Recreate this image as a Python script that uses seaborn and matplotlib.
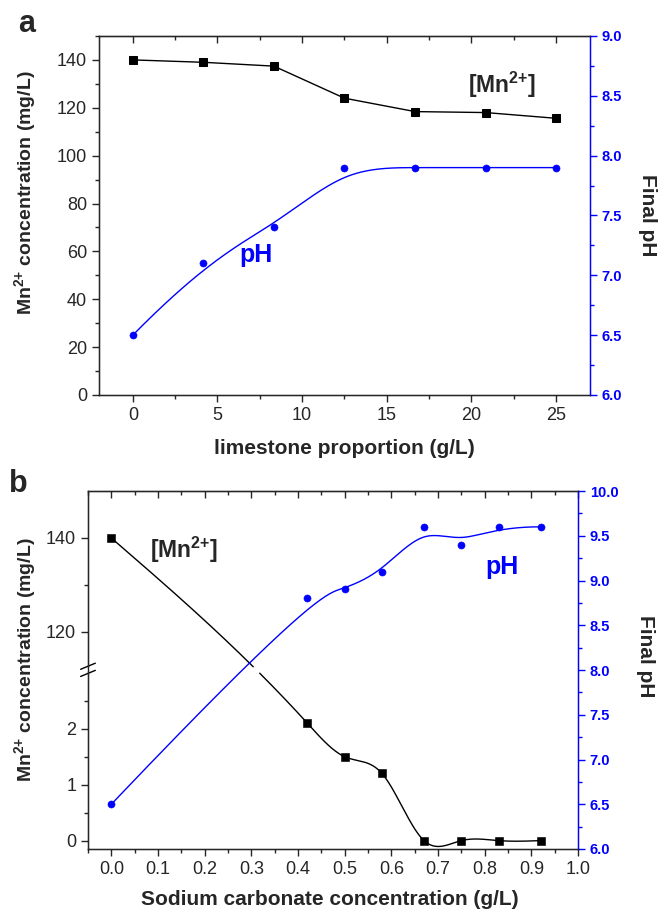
import numpy as np
import pandas as pd
import matplotlib
matplotlib.use('Agg')
import matplotlib.pyplot as plt
import seaborn as sns
from matplotlib.ticker import MultipleLocator, FixedLocator, FormatStrFormatter, NullFormatter

# ---- data (panel a) ----
lime_x = [0, 4.17, 8.33, 12.5, 16.67, 20.83, 25]
lime_mn = [140, 139, 137.4, 124, 118.4, 118, 115.6]
lime_ph = [6.5, 7.1, 7.4, 7.9, 7.9, 7.9, 7.9]

# ---- data (panel b) ----
soda_x = [0, 0.42, 0.5, 0.58, 0.67, 0.75, 0.83, 0.92]
soda_mn = [140, 2.1, 1.5, 1.2, 0, 0, 0, 0]
soda_ph = [6.5, 8.8, 8.9, 9.1, 9.6, 9.4, 9.6, 9.6]

BLUE = '#0000FF'
MN_LABEL = r'Mn$^{2{+}}$ concentration (mg/L)'
MN_TAG = r'[Mn$^{2{+}}$]'

sns.set_style('ticks')
plt.rcParams['font.family'] = ['Liberation Sans', 'DejaVu Sans']
plt.rcParams['mathtext.fontset'] = 'custom'
plt.rcParams['mathtext.rm'] = 'Liberation Sans:bold'
plt.rcParams['mathtext.bf'] = 'Liberation Sans:bold'
plt.rcParams['mathtext.default'] = 'bf'


def bspline(px, py, n=300, k=3):
    # clamped cubic B-spline with the data as control points (Origin style)
    cp = np.column_stack([px, py]).astype(float)
    m = len(cp)
    knots = np.concatenate([np.zeros(k), np.linspace(0, 1, m - k + 1), np.ones(k)])
    t = np.linspace(0, 1 - 1e-9, n)
    N = np.array([(knots[i] <= t) & (t < knots[i + 1]) for i in range(len(knots) - 1)], float).T
    for d in range(1, k + 1):
        Nn = np.zeros((n, len(knots) - 1 - d))
        for i in range(len(knots) - 1 - d):
            a = knots[i + d] - knots[i]
            b = knots[i + d + 1] - knots[i + 1]
            left = (t - knots[i]) / a * N[:, i] if a > 0 else 0
            right = (knots[i + d + 1] - t) / b * N[:, i + 1] if b > 0 else 0
            Nn[:, i] = left + right
        N = Nn
    out = N[:, :m] @ cp
    return out[:, 0], out[:, 1]


def natural_spline(x, y, xs):
    x = np.asarray(x, float); y = np.asarray(y, float)
    n = len(x); h = np.diff(x)
    A = np.zeros((n, n)); r = np.zeros(n)
    A[0, 0] = A[-1, -1] = 1
    for i in range(1, n - 1):
        A[i, i - 1] = h[i - 1]; A[i, i] = 2 * (h[i - 1] + h[i]); A[i, i + 1] = h[i]
        r[i] = 3 * ((y[i + 1] - y[i]) / h[i] - (y[i] - y[i - 1]) / h[i - 1])
    c = np.linalg.solve(A, r)
    b = (y[1:] - y[:-1]) / h - h * (2 * c[:-1] + c[1:]) / 3
    d = (c[1:] - c[:-1]) / (3 * h)
    idx = np.clip(np.searchsorted(x, xs) - 1, 0, n - 2)
    dx = xs - x[idx]
    return y[idx] + b[idx] * dx + c[idx] * dx ** 2 + d[idx] * dx ** 3


# broken y scale for panel b: lower half -0.15..3.05, upper half 111.9..150
LO, B1, B2, HI, GAP = -0.15, 3.05, 111.9, 150.0, 1e-4


def fwd(y):
    y = np.asarray(y, float)
    return np.where(y <= B1, (y - LO) / (B1 - LO) * 0.5,
                    np.where(y >= B2, 0.5 + GAP + (y - B2) / (HI - B2) * (0.5 - GAP),
                             0.5 + (y - B1) / (B2 - B1) * GAP))


def inv(v):
    v = np.asarray(v, float)
    return np.where(v <= 0.5, LO + v / 0.5 * (B1 - LO),
                    np.where(v >= 0.5 + GAP, B2 + (v - 0.5 - GAP) / (0.5 - GAP) * (HI - B2),
                             B1 + (v - 0.5) / GAP * (B2 - B1)))


def style_axes(ax, ax2, xmaj, xmin):
    for s in ['left', 'bottom', 'top']:
        ax.spines[s].set_linewidth(1.0)
        ax.spines[s].set_color('black')
    ax2.spines['right'].set_color(BLUE)
    ax2.spines['right'].set_linewidth(1.0)
    ax.tick_params(axis='both', which='both', direction='out', width=1.0, labelsize=13)
    ax.tick_params(which='major', length=5)
    ax.tick_params(which='minor', length=3)
    ax2.tick_params(axis='y', which='both', direction='out', colors=BLUE, width=1.0, labelsize=10.5)
    ax2.tick_params(which='major', length=5)
    ax2.tick_params(which='minor', length=3)
    for lab in ax2.get_yticklabels():
        lab.set_fontweight('bold')
    top = ax.secondary_xaxis('top')
    top.xaxis.set_major_locator(MultipleLocator(xmaj))
    top.xaxis.set_minor_locator(MultipleLocator(xmin))
    top.tick_params(which='both', direction='in', labeltop=False, width=1.0)
    top.tick_params(which='major', length=5)
    top.tick_params(which='minor', length=3)


fig = plt.figure(figsize=(6.62, 9.13), dpi=100)

# ================= panel a =================
ax = fig.add_axes([0.1495, 0.5674, 0.7417, 0.3932])
ax2 = ax.twinx()
da = pd.DataFrame({'x': lime_x, 'mn': lime_mn, 'ph': lime_ph})

sns.lineplot(data=da, x='x', y='mn', ax=ax, color='black', lw=1.0, marker='s',
             markersize=5.5, markeredgecolor='black')
bx, by = bspline(lime_x, lime_ph)
ax2.plot(bx, by, color=BLUE, lw=1.0)
sns.scatterplot(data=da, x='x', y='ph', ax=ax2, color=BLUE, s=26, edgecolor=BLUE, zorder=5)

ax.set_xlim(-2, 27)
ax.set_ylim(0, 150)
ax2.set_ylim(6.0, 9.0)
ax.xaxis.set_major_locator(MultipleLocator(5))
ax.xaxis.set_minor_locator(MultipleLocator(2.5))
ax.yaxis.set_major_locator(MultipleLocator(20))
ax.yaxis.set_minor_locator(MultipleLocator(10))
ax2.yaxis.set_major_locator(MultipleLocator(0.5))
ax2.yaxis.set_minor_locator(MultipleLocator(0.25))
ax2.yaxis.set_major_formatter(FormatStrFormatter('%.1f'))
style_axes(ax, ax2, 5, 2.5)

ax.set_xlabel('limestone proportion (g/L)', fontsize=15, fontweight='bold')
ax.xaxis.set_label_coords(0.5, -0.122)
ax.set_ylabel(MN_LABEL, fontsize=14, fontweight='bold')
ax.yaxis.set_label_coords(-0.124, 0.563)
ax2.set_ylabel('Final pH', fontsize=15, fontweight='bold', rotation=270, va='center')
ax2.yaxis.set_label_coords(1.118, 0.5)

ax.text(21.8, 129.5, MN_TAG, fontsize=16.5, fontweight='bold', ha='center', va='center')
ax.text(7.3, 58.5, 'pH', fontsize=18, fontweight='bold', color=BLUE, ha='center', va='center')
fig.text(0.04, 0.974, 'a', fontsize=22, fontweight='bold', ha='center', va='center')

# ================= panel b =================
bx_ = fig.add_axes([0.1329, 0.0701, 0.7402, 0.3921])
bx2 = bx_.twinx()
bx_.set_yscale('function', functions=(fwd, inv))
db = pd.DataFrame({'x': soda_x, 'mn': soda_mn, 'ph': soda_ph})

xs = np.linspace(soda_x[0], soda_x[-1], 600)
mn_t = natural_spline(soda_x, fwd(soda_mn), xs)
mn_t[np.abs(mn_t - 0.5) < 0.008] = np.nan   # the curve is cut where it crosses the break
bx_.plot(xs, inv(mn_t), color='black', lw=1.0)
sns.scatterplot(data=db, x='x', y='mn', ax=bx_, color='black', marker='s', s=28,
                edgecolor='black', zorder=5)
px, py = bspline(soda_x, soda_ph)
bx2.plot(px, py, color=BLUE, lw=1.0)
sns.scatterplot(data=db, x='x', y='ph', ax=bx2, color=BLUE, s=26, edgecolor=BLUE, zorder=5)

bx_.set_xlim(-0.05, 1.0)
bx_.set_ylim(LO, HI)
bx2.set_ylim(6.0, 10.0)
bx_.xaxis.set_major_locator(MultipleLocator(0.1))
bx_.xaxis.set_minor_locator(MultipleLocator(0.05))
bx_.xaxis.set_major_formatter(FormatStrFormatter('%.1f'))
bx_.yaxis.set_major_locator(FixedLocator([0, 1, 2, 120, 140]))
bx_.yaxis.set_minor_locator(FixedLocator([0.5, 1.5, 2.5, 130]))
bx_.yaxis.set_major_formatter(FormatStrFormatter('%d'))
bx_.yaxis.set_minor_formatter(NullFormatter())
bx2.yaxis.set_major_locator(MultipleLocator(0.5))
bx2.yaxis.set_minor_locator(MultipleLocator(0.25))
bx2.yaxis.set_major_formatter(FormatStrFormatter('%.1f'))
style_axes(bx_, bx2, 0.1, 0.05)

# axis break marks on the left spine
bx_.fill([-0.016, 0.016, 0.016, -0.016], [0.491, 0.508, 0.511, 0.494], color='white',
         transform=bx_.transAxes, clip_on=False, zorder=10, lw=0)
for y0 in (0.482, 0.502):
    bx_.plot([-0.015, 0.015], [y0, y0 + 0.017], color='black', lw=1.0,
             transform=bx_.transAxes, clip_on=False, zorder=11)

bx_.set_xlabel('Sodium carbonate concentration (g/L)', fontsize=15, fontweight='bold')
bx_.xaxis.set_label_coords(0.494, -0.115)
bx_.set_ylabel(MN_LABEL, fontsize=14, fontweight='bold')
bx_.yaxis.set_label_coords(-0.102, 0.528)
bx2.set_ylabel('Final pH', fontsize=15, fontweight='bold', rotation=270, va='center')
bx2.yaxis.set_label_coords(1.137, 0.539)

bx_.text(0.155, 137.5, MN_TAG, fontsize=16.5, fontweight='bold', ha='center', va='center')
bx2.text(0.837, 9.15, 'pH', fontsize=18, fontweight='bold', color=BLUE, ha='center', va='center')
fig.text(0.027, 0.47, 'b', fontsize=22, fontweight='bold', ha='center', va='center')

fig.savefig('out.png', dpi=100)
